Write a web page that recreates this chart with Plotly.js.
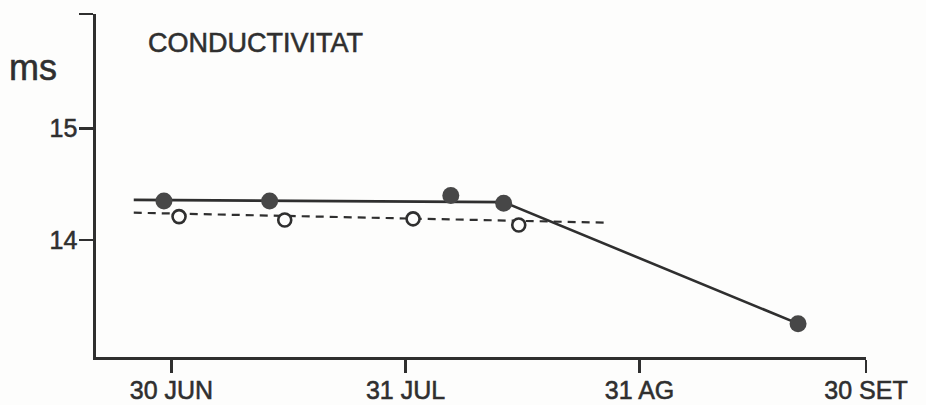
<!DOCTYPE html>
<html>
<head>
<meta charset="utf-8">
<script src="https://cdn.plot.ly/plotly-3.0.1.min.js"></script>
<style>
  html, body { margin: 0; padding: 0; background: #fdfdfc; }
  #chart { width: 926px; height: 405px; }
  /* slightly heavier lettering */
  #chart text { stroke: #2f2f2f; stroke-width: 0.55px; }
</style>
</head>
<body>
<div id="chart"></div>
<script>
// Conductivity (mS) readings, summer season
const filledDates = ['1987-06-29', '1987-07-13', '1987-08-06', '1987-08-13', '1987-09-21'];
const filledVals  = [14.35, 14.35, 14.40, 14.33, 13.25];

const openDates = ['1987-07-01', '1987-07-15', '1987-08-01', '1987-08-15'];
const openVals  = [14.21, 14.18, 14.19, 14.135];

// fitted trend lines
const solidLineDates = ['1987-06-25', '1987-08-13', '1987-09-21'];
const solidLineVals  = [14.36, 14.34, 13.25];
const dashedLineDates = ['1987-06-25', '1987-08-27'];
const dashedLineVals  = [14.245, 14.155];

// axis ticks
const xTickDates  = ['1987-06-30', '1987-07-31', '1987-08-31', '1987-09-30'];
const xTickLabels = ['30 JUN', '31 JUL', '31 AG', '30 SET'];
const yTickVals   = [14, 15];
const yTickLabels = ['14', '15'];

const ink = '#2f2f2f';
const font = 'Liberation Sans, Arial, sans-serif';
const yRange = [12.951, 16.027];

const traces = [
  {
    x: dashedLineDates, y: dashedLineVals, mode: 'lines',
    line: { color: ink, width: 2.2, dash: '8px,6px' }, hoverinfo: 'skip'
  },
  {
    x: solidLineDates, y: solidLineVals, mode: 'lines',
    line: { color: ink, width: 2.6 }, hoverinfo: 'skip'
  },
  {
    x: openDates, y: openVals, mode: 'markers',
    marker: { size: 13, color: '#fdfdfc', line: { color: ink, width: 2.6 } }
  },
  {
    x: filledDates, y: filledVals, mode: 'markers',
    marker: { size: 17, color: '#474747', line: { width: 0 } }
  }
];

const layout = {
  width: 926, height: 405,
  margin: { l: 96, r: 60, t: 14, b: 48 },
  paper_bgcolor: '#fdfdfc', plot_bgcolor: '#fdfdfc',
  showlegend: false,
  title: {
    text: 'CONDUCTIVITAT',
    x: 148 / 926, xanchor: 'left', xref: 'container',
    y: 1 - 43 / 405, yanchor: 'middle', yref: 'container',
    font: { family: font, size: 27, color: ink }
  },
  xaxis: {
    type: 'date',
    range: ['1987-06-20', '1987-09-30'],
    tickmode: 'array', tickvals: xTickDates, ticktext: xTickLabels,
    ticks: 'outside', ticklen: 13, tickwidth: 2.2, tickcolor: ink,
    ticklabelstandoff: -4,
    showline: true, linecolor: ink, linewidth: 2.6,
    showgrid: false, zeroline: false,
    tickfont: { family: font, size: 25, color: ink }
  },
  yaxis: {
    range: yRange,
    tickmode: 'array',
    tickvals: yTickVals.concat([yRange[1]]),
    ticktext: yTickLabels.concat(['']),
    ticks: 'outside', ticklen: 14, tickwidth: 2.2, tickcolor: ink,
    ticklabelstandoff: -3,
    showline: true, linecolor: ink, linewidth: 2.6,
    showgrid: false, zeroline: false,
    tickfont: { family: font, size: 25, color: ink }
  },
  annotations: [
    {
      text: 'ms', xref: 'paper', yref: 'paper',
      x: (33 - 96) / 770, y: (357 - 67) / 343,
      xanchor: 'center', yanchor: 'middle', showarrow: false,
      font: { family: font, size: 36, color: ink }
    }
  ]
};

Plotly.newPlot('chart', traces, layout, { displayModeBar: false, staticPlot: true });
</script>
</body>
</html>
